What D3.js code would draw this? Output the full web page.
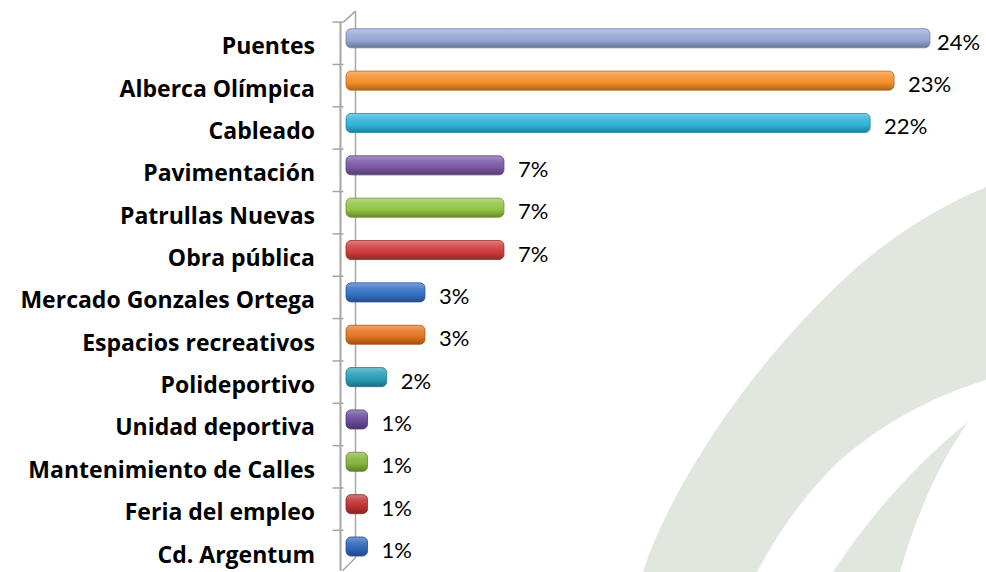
<!DOCTYPE html>
<html>
<head>
<meta charset="utf-8">
<script src="https://cdn.jsdelivr.net/npm/d3@7"></script>
<style>
  html, body { margin: 0; padding: 0; background: #ffffff; }
  svg { display: block; }
</style>
</head>
<body>
<svg id="chart" width="986" height="572"></svg>
<script>
// ---- data ----
const categories = [
  "Puentes", "Alberca Olímpica", "Cableado", "Pavimentación", "Patrullas Nuevas",
  "Obra pública", "Mercado Gonzales Ortega", "Espacios recreativos", "Polideportivo",
  "Unidad deportiva", "Mantenimiento de Calles", "Feria del empleo", "Cd. Argentum"
];
const values = [24.4, 22.9, 21.9, 6.6, 6.6, 6.6, 3.3, 3.3, 1.7, 0.9, 0.9, 0.9, 0.9];
const valueLabels = ["24%", "23%", "22%", "7%", "7%", "7%", "3%", "3%", "2%", "1%", "1%", "1%", "1%"];

// palette (one per bar)
const barColors = [
  "#94a8d6", "#f58f2a", "#2fb4d8", "#7a57a6", "#93c443", "#d03b3b", "#3370c4",
  "#e3731f", "#2a9db7", "#6a4a98", "#85b33b", "#bf3131", "#2f66bb"
];

const svg = d3.select("#chart");

// ---- background swoosh (decoration) ----
const bg = svg.append("g").attr("fill", "#e1e6de");
bg.append("path").attr("d",
  "M986,187 C930,210 880,245 843,280 C790,330 740,390 700,455 C675,495 655,535 643,572 " +
  "L757,572 C785,520 810,490 838,462 C880,425 930,397 986,380 Z");
bg.append("path").attr("d",
  "M968,422 C920,460 870,515 833,572 L900,572 C915,520 935,470 968,422 Z");

// ---- scales ----
const y = d3.scaleBand().domain(categories).range([17.1, 567.7]).paddingInner(0.55).paddingOuter(0.275);
const x = d3.scaleLinear().domain([0, 25]).range([346, 944.3]);

const depthX = 15, depthY = -11;   // 3D wall offset
const frontX = 340.5;
const step = y.step();
const bandTop = y.range()[0];

// ---- axis wall ----
const axisG = svg.append("g").attr("stroke", "#a6a6a6").attr("fill", "none");
const frontTop = bandTop + 5, frontBottom = bandTop + 5 + categories.length * step - 2;
axisG.append("line").attr("x1", frontX).attr("x2", frontX)
  .attr("y1", frontTop).attr("y2", frontBottom).attr("stroke-width", 2);
axisG.append("line").attr("x1", frontX + depthX).attr("x2", frontX + depthX)
  .attr("y1", frontTop + depthY).attr("y2", frontBottom + depthY - 2).attr("stroke-width", 1.5);
axisG.append("line").attr("x1", frontX + 3).attr("y1", frontTop)
  .attr("x2", frontX + depthX).attr("y2", frontTop + depthY).attr("stroke-width", 1.5);
axisG.append("line").attr("x1", frontX + 2).attr("y1", frontBottom)
  .attr("x2", frontX + depthX).attr("y2", frontBottom + depthY - 2).attr("stroke-width", 1.5);
// ticks
const tickYs = d3.range(categories.length).map(i => bandTop + 5 + i * step);
axisG.selectAll("line.tick").data(tickYs).join("line").attr("class", "tick")
  .attr("x1", frontX - 8).attr("x2", frontX + 3)
  .attr("y1", d => d).attr("y2", d => d).attr("stroke-width", 1.5);

// ---- gradients ----
const defs = svg.append("defs");
categories.forEach((c, i) => {
  const base = d3.color(barColors[i]);
  const g = defs.append("linearGradient").attr("id", "grad" + i)
    .attr("x1", 0).attr("x2", 0).attr("y1", 0).attr("y2", 1);
  g.append("stop").attr("offset", "0%").attr("stop-color", d3.interpolateRgb(base, "#ffffff")(0.35));
  g.append("stop").attr("offset", "30%").attr("stop-color", d3.interpolateRgb(base, "#ffffff")(0.12));
  g.append("stop").attr("offset", "60%").attr("stop-color", base.formatHex());
  g.append("stop").attr("offset", "100%").attr("stop-color", d3.interpolateRgb(base, "#000000")(0.3));
});

// ---- bars ----
const bars = svg.append("g");
bars.selectAll("rect").data(categories).join("rect")
  .attr("x", x(0))
  .attr("y", d => y(d))
  .attr("width", (d, i) => x(values[i]) - x(0))
  .attr("height", y.bandwidth())
  .attr("rx", 5).attr("ry", 5)
  .attr("fill", (d, i) => `url(#grad${i})`)
  .attr("stroke", (d, i) => d3.interpolateRgb(barColors[i], "#000000")(0.25))
  .attr("stroke-width", 0.8);

// ---- category labels ----
svg.append("g").selectAll("text").data(categories).join("text")
  .attr("x", 315)
  .attr("y", d => y(d) + y.bandwidth() / 2 + 7)
  .attr("text-anchor", "end")
  .attr("dominant-baseline", "central")
  .attr("font-family", "'Open Sans', Lato, sans-serif")
  .attr("font-weight", "bold")
  .attr("font-size", 23)
  .attr("fill", "#000")
  .text(d => d);

// ---- value labels ----
const labelMax = 937;
svg.append("g").selectAll("text").data(categories).join("text")
  .attr("x", (d, i) => Math.min(x(values[i]) + 14, labelMax))
  .attr("y", d => y(d) + y.bandwidth() / 2 + 3)
  .attr("dominant-baseline", "central")
  .attr("font-family", "Lato, 'Open Sans', sans-serif")
  .attr("font-size", 22)
  .attr("fill", "#000")
  .text((d, i) => valueLabels[i]);
</script>
</body>
</html>
